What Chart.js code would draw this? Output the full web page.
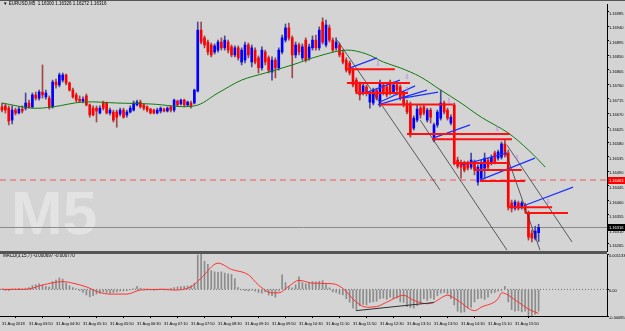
<!DOCTYPE html>
<html lang="en">
<head>
<meta charset="UTF-8">
<title>EURUSD,M5</title>
<script src="https://cdn.jsdelivr.net/npm/chart.js"></script>
<style>
  html, body { margin:0; padding:0; background:#d4d4d4; overflow:hidden; }
  #wrap { position:relative; width:625px; height:331px; }
  #wm { position:absolute; left:11px; top:182px; font:bold 62px/62px 'Liberation Sans', Arial, sans-serif; color:#e3e3e3; }
  canvas { position:absolute; left:0; }
  #priceChart { top:0; }
  #macdChart { top:253px; }
  .line { position:absolute; background:#555; }
</style>
</head>
<body>
<div id="wrap">
  <div id="wm">M5</div>
  <canvas id="priceChart" width="625" height="252"></canvas>
  <canvas id="macdChart" width="625" height="78"></canvas>
  <div class="line" style="left:0;top:0;width:625px;height:1px"></div>
  <div class="line" style="left:0;top:251px;width:607px;height:3px"></div>
</div>
<script>
// OHLC, 160 five-minute bars
const open = [
  1.16690,1.16693,1.16686,1.16649,1.16680,1.16671,1.16683,1.16686,1.16702,1.16690,
  1.16727,1.16717,1.16736,1.16721,1.16717,1.16690,1.16767,1.16758,1.16773,1.16789,
  1.16764,1.16742,1.16727,1.16714,1.16708,1.16724,1.16696,1.16686,1.16686,1.16671,
  1.16702,1.16702,1.16671,1.16674,1.16674,1.16668,1.16680,1.16665,1.16674,1.16680,
  1.16696,1.16705,1.16696,1.16690,1.16683,1.16680,1.16671,1.16677,1.16683,1.16677,
  1.16690,1.16680,1.16708,1.16699,1.16711,1.16696,1.16702,1.16702,1.16739,1.16928,
  1.16904,1.16891,1.16882,1.16860,1.16866,1.16891,1.16873,1.16891,1.16876,1.16851,
  1.16873,1.16829,1.16835,1.16882,1.16829,1.16866,1.16842,1.16811,1.16860,1.16842,
  1.16798,1.16835,1.16811,1.16860,1.16897,1.16935,1.16904,1.16851,1.16882,1.16842,
  1.16897,1.16842,1.16873,1.16897,1.16873,1.16953,1.16882,1.16935,1.16897,1.16873,
  1.16882,1.16857,1.16835,1.16826,1.16804,1.16773,1.16764,1.16733,1.16752,1.16705,
  1.16702,1.16742,1.16696,1.16758,1.16752,1.16767,1.16736,1.16758,1.16752,1.16733,
  1.16702,1.16699,1.16624,1.16649,1.16686,1.16690,1.16649,1.16680,1.16587,1.16634,
  1.16655,1.16702,1.16680,1.16640,1.16696,1.16525,1.16516,1.16516,1.16516,1.16503,
  1.16516,1.16457,1.16469,1.16500,1.16525,1.16516,1.16547,1.16531,1.16534,1.16575,
  1.16547,1.16392,1.16376,1.16392,1.16379,1.16385,1.16361,1.16298,1.16283,1.16300
];
const high = [
  1.16702,1.16699,1.16693,1.16693,1.16686,1.16690,1.16693,1.16733,1.16711,1.16733,
  1.16736,1.16742,1.16820,1.16742,1.16724,1.16773,1.16776,1.16795,1.16795,1.16792,
  1.16767,1.16748,1.16733,1.16724,1.16721,1.16730,1.16699,1.16693,1.16693,1.16693,
  1.16708,1.16705,1.16686,1.16680,1.16680,1.16686,1.16686,1.16680,1.16693,1.16708,
  1.16711,1.16711,1.16699,1.16693,1.16686,1.16683,1.16686,1.16690,1.16686,1.16690,
  1.16693,1.16714,1.16711,1.16714,1.16714,1.16708,1.16708,1.16745,1.16953,1.16953,
  1.16910,1.16897,1.16888,1.16885,1.16897,1.16904,1.16910,1.16897,1.16882,1.16879,
  1.16879,1.16873,1.16891,1.16888,1.16882,1.16873,1.16848,1.16876,1.16866,1.16848,
  1.16845,1.16842,1.16873,1.16913,1.16947,1.16950,1.16910,1.16891,1.16888,1.16885,
  1.16904,1.16885,1.16910,1.16913,1.16938,1.16966,1.16959,1.16944,1.16904,1.16904,
  1.16888,1.16866,1.16842,1.16832,1.16811,1.16780,1.16767,1.16761,1.16758,1.16739,
  1.16748,1.16748,1.16773,1.16764,1.16758,1.16773,1.16767,1.16764,1.16758,1.16739,
  1.16711,1.16705,1.16662,1.16696,1.16693,1.16696,1.16686,1.16686,1.16640,1.16680,
  1.16742,1.16708,1.16686,1.16665,1.16702,1.16534,1.16525,1.16522,1.16522,1.16547,
  1.16525,1.16510,1.16525,1.16547,1.16531,1.16541,1.16553,1.16556,1.16581,1.16587,
  1.16556,1.16401,1.16401,1.16398,1.16398,1.16392,1.16367,1.16308,1.16320,1.16326
];
const low = [
  1.16674,1.16671,1.16634,1.16637,1.16665,1.16668,1.16671,1.16680,1.16686,1.16686,
  1.16711,1.16711,1.16717,1.16714,1.16683,1.16686,1.16748,1.16752,1.16767,1.16758,
  1.16739,1.16717,1.16705,1.16705,1.16702,1.16693,1.16658,1.16662,1.16643,1.16668,
  1.16680,1.16668,1.16665,1.16643,1.16627,1.16662,1.16655,1.16658,1.16671,1.16677,
  1.16693,1.16686,1.16680,1.16674,1.16668,1.16668,1.16668,1.16671,1.16674,1.16674,
  1.16674,1.16674,1.16693,1.16696,1.16690,1.16693,1.16686,1.16699,1.16736,1.16885,
  1.16873,1.16851,1.16845,1.16854,1.16860,1.16866,1.16866,1.16857,1.16845,1.16845,
  1.16835,1.16820,1.16826,1.16842,1.16814,1.16823,1.16795,1.16804,1.16820,1.16795,
  1.16773,1.16780,1.16804,1.16854,1.16891,1.16897,1.16780,1.16842,1.16851,1.16835,
  1.16829,1.16835,1.16866,1.16866,1.16866,1.16885,1.16876,1.16891,1.16860,1.16866,
  1.16845,1.16823,1.16798,1.16789,1.16752,1.16730,1.16711,1.16727,1.16724,1.16686,
  1.16696,1.16711,1.16690,1.16727,1.16721,1.16727,1.16730,1.16727,1.16711,1.16690,
  1.16668,1.16596,1.16618,1.16643,1.16655,1.16665,1.16643,1.16640,1.16581,1.16627,
  1.16649,1.16668,1.16649,1.16634,1.16510,1.16500,1.16469,1.16488,1.16494,1.16497,
  1.16479,1.16447,1.16463,1.16469,1.16494,1.16510,1.16513,1.16525,1.16528,1.16534,
  1.16370,1.16364,1.16370,1.16370,1.16373,1.16361,1.16277,1.16271,1.16277,1.16272
];
const close = [
  1.16680,1.16680,1.16646,1.16680,1.16671,1.16683,1.16677,1.16702,1.16690,1.16727,
  1.16717,1.16736,1.16727,1.16733,1.16690,1.16767,1.16758,1.16789,1.16789,1.16764,
  1.16742,1.16721,1.16711,1.16708,1.16714,1.16696,1.16665,1.16665,1.16677,1.16686,
  1.16686,1.16671,1.16680,1.16649,1.16658,1.16680,1.16658,1.16674,1.16686,1.16702,
  1.16705,1.16690,1.16686,1.16680,1.16671,1.16671,1.16680,1.16686,1.16677,1.16686,
  1.16680,1.16711,1.16696,1.16711,1.16696,1.16705,1.16693,1.16742,1.16928,1.16891,
  1.16882,1.16860,1.16851,1.16879,1.16891,1.16873,1.16897,1.16866,1.16851,1.16873,
  1.16842,1.16866,1.16882,1.16851,1.16873,1.16829,1.16811,1.16866,1.16829,1.16804,
  1.16835,1.16811,1.16866,1.16904,1.16935,1.16904,1.16851,1.16882,1.16860,1.16876,
  1.16835,1.16876,1.16897,1.16873,1.16928,1.16891,1.16944,1.16897,1.16866,1.16891,
  1.16851,1.16829,1.16804,1.16795,1.16758,1.16736,1.16727,1.16755,1.16733,1.16733,
  1.16742,1.16717,1.16764,1.16733,1.16727,1.16733,1.16758,1.16742,1.16717,1.16696,
  1.16674,1.16603,1.16655,1.16683,1.16665,1.16671,1.16680,1.16658,1.16634,1.16674,
  1.16702,1.16674,1.16655,1.16658,1.16516,1.16506,1.16503,1.16494,1.16500,1.16525,
  1.16494,1.16503,1.16516,1.16531,1.16503,1.16534,1.16519,1.16550,1.16575,1.16541,
  1.16379,1.16376,1.16395,1.16376,1.16392,1.16370,1.16286,1.16283,1.16305,1.16316
];

// moving average, sampled by bar
const maIdx = [0, 9, 15, 24, 34, 44, 57, 64, 71, 78, 86, 94, 102, 108, 113, 118, 124, 130, 136, 142, 150, 156, 161];
const maVal = [1.16702, 1.16686, 1.16690, 1.16705, 1.16702, 1.16699, 1.16693, 1.16733, 1.16773, 1.16795, 1.16820, 1.16848,
               1.16866, 1.16854, 1.16829, 1.16811, 1.16783, 1.16742, 1.16702, 1.16658, 1.16609, 1.16556, 1.16503];

// drawn objects
const redFrom  = [102.2, 102.2, 105.2, 112, 120, 127.4, 133.6, 140.1, 141.6, 149.9, 155];
const redTo    = [116.4, 120.9, 120.3, 133.6, 150.5, 151.1, 149.6, 154, 155, 163, 167.7];
const redLevel = [1.16807, 1.16764, 1.16733, 1.16697, 1.16606, 1.16590, 1.16516, 1.16494, 1.16460, 1.16379, 1.16361];

const blueX1 = [103.1, 107.6, 112, 111.4, 118.8, 127.7, 136.3, 141.6, 155];
const blueY1 = [1.16811, 1.16733, 1.16705, 1.16696, 1.16717, 1.16593, 1.16510, 1.16463, 1.16385];
const blueX2 = [111.1, 117.9, 122.4, 125.9, 129.2, 138.7, 149.6, 157.9, 169.2];
const blueY2 = [1.16842, 1.16773, 1.16755, 1.16742, 1.16736, 1.16634, 1.16547, 1.16531, 1.16441];

const trendX1 = [99.3, 123.9, 149.6, 149];
const trendY1 = [1.16897, 1.16649, 1.16572, 1.16556];
const trendX2 = [129.8, 149.6, 168.9, 159.4];
const trendY2 = [1.16432, 1.16246, 1.16271, 1.16246];

const arrowIdx   = [111.4, 120, 120, 132.4, 146.7, 152.6, 161.8];
const arrowPrice = [1.16823, 1.16783, 1.16742, 1.16708, 1.16621, 1.16531, 1.16395];

const alertLevel = 1.16463;
const bidLevel = 1.16316;
const priceTicks = [1.16985, 1.16940, 1.16895, 1.16850, 1.16805, 1.16760, 1.16715, 1.16670, 1.16625,
                    1.16580, 1.16535, 1.16490, 1.16445, 1.16400, 1.16355, 1.16310, 1.16265];

// MACD
const hist = [
  0.00002,-0.00003,-0.00004,0.00001,0.00002,0.00003,0.00002,0.00004,
  0.00006,0.00012,0.00015,0.00018,0.00014,0.00010,0.00008,0.00025,
  0.00030,0.00037,0.00033,0.00020,0.00012,0.00006,0.00002,-0.00004,
  -0.00010,-0.00018,-0.00024,-0.00020,-0.00015,-0.00012,-0.00008,-0.00010,
  -0.00012,-0.00010,-0.00008,-0.00006,-0.00005,-0.00004,-0.00002,0.00002,
  0.00010,0.00004,0.00002,0.00001,-0.00002,-0.00003,-0.00002,0.00001,
  0.00002,0.00001,0.00003,0.00006,0.00008,0.00009,0.00010,0.00011,
  0.00012,0.00020,0.00110,0.00113,0.00090,0.00080,0.00060,0.00056,
  0.00055,0.00056,0.00052,0.00050,0.00048,0.00035,0.00006,-0.00002,
  -0.00004,-0.00005,-0.00003,-0.00006,-0.00010,-0.00012,-0.00008,-0.00018,
  -0.00020,-0.00025,-0.00005,0.00047,0.00022,0.00010,0.00005,0.00015,
  0.00040,0.00022,0.00018,0.00020,0.00025,0.00024,0.00026,0.00028,
  0.00015,0.00005,-0.00008,-0.00010,-0.00015,-0.00018,-0.00030,-0.00041,
  -0.00060,-0.00068,-0.00052,-0.00048,-0.00050,-0.00042,-0.00040,-0.00038,
  -0.00030,-0.00028,-0.00032,-0.00025,-0.00030,-0.00028,-0.00040,-0.00042,
  -0.00055,-0.00058,-0.00060,-0.00052,-0.00045,-0.00030,-0.00035,-0.00028,
  -0.00032,-0.00020,-0.00012,-0.00010,-0.00015,-0.00030,-0.00050,-0.00070,
  -0.00074,-0.00072,-0.00060,-0.00058,-0.00040,-0.00030,-0.00028,-0.00032,
  -0.00025,-0.00012,-0.00010,-0.00006,-0.00004,0.00010,-0.00040,-0.00065,
  -0.00070,-0.00068,-0.00072,-0.00070,-0.00085,-0.00090,-0.00080,-0.000697
];
const sigIdx = [0, 7, 12, 18, 21, 25, 29, 32, 37, 41, 47, 51, 56, 59, 64, 68, 73, 76, 80, 82, 85, 88, 92, 98, 101,
                105, 108, 111, 114, 119, 122, 126, 128, 132, 135, 140, 142, 147, 148, 153, 156, 159];
const sigVal = [0, 0, 0.00014, 0.00025, 0.0002, 0.00008, -0.0001, -0.00015, -0.00015, -0.00002, 0, -0.00002, 0.00008,
                0.00036, 0.00084, 0.00064, 0.00047, 0.00014, -0.00011, -0.00011, 0.0001, 0.00029, 0.0002, 0.00018, 0.00003,
                -0.00041, -0.00057, -0.00055, -0.00041, -0.00019, -0.00035, -0.00046, -0.00041, -0.00019, -0.00035,
                -0.00068, -0.00057, -0.0003, -0.00011, -0.00041, -0.00063, -0.00077];
const divIdx = [105, 128];
const divVal = [-0.00068, -0.00042];
const macdMin = -0.000852, macdMax = 0.001133;

const timeLabels = ['31 Aug 2018','31 Aug 03:50','31 Aug 04:30','31 Aug 05:10','31 Aug 05:50','31 Aug 06:30',
  '31 Aug 07:10','31 Aug 07:50','31 Aug 08:30','31 Aug 09:10','31 Aug 09:50','31 Aug 10:30','31 Aug 11:10',
  '31 Aug 11:50','31 Aug 12:30','31 Aug 13:10','31 Aug 13:50','31 Aug 14:30','31 Aug 15:10','31 Aug 15:50'];

const headerText = '\u25BC EURUSD,M5  1.16300 1.16326 1.16272 1.16316';
const macdText = 'MACD(3,15,7) -0.000697 -0.000770';

const xMin = -0.593, xMax = 179.26;
const FONT = '"Liberation Sans", Arial, sans-serif';

const isUp = open.map((o, i) => close[i] >= o);
const bodyColors = isUp.map(u => u ? '#0000ff' : '#ff0000');
const wickColors = isUp.map(u => u ? '#4a4a9a' : '#a04848');

function segments(x1, y1, x2, y2) {
  const pts = [];
  x1.forEach((v, k) => pts.push({x: v, y: y1[k]}, {x: x2[k], y: y2[k]}, {x: x2[k], y: null}));
  return pts;
}
const flat = (from, to, lvl) => segments(from, lvl, to, lvl);

const overlayPlugin = {
  id: 'overlay',
  afterDraw(chart) {
    const {ctx, scales: {x, y}, chartArea} = chart;
    ctx.save();
    ctx.textBaseline = 'middle';
    ctx.textAlign = 'left';
    ctx.fillStyle = '#000';
    ctx.font = '4.5px ' + FONT;
    ctx.fillText(headerText, 3, 4);

    ctx.fillStyle = '#c070f0';
    ctx.font = '7px "DejaVu Sans"';
    ctx.textAlign = 'center';
    arrowIdx.forEach((v, k) => ctx.fillText('\u21E9', x.getPixelForValue(v), y.getPixelForValue(arrowPrice[k])));

    ctx.textAlign = 'left';
    ctx.font = '4px ' + FONT;
    [[alertLevel, '#ff0000'], [bidLevel, '#000000']].forEach(([lvl, col]) => {
      const py = Math.round(y.getPixelForValue(lvl));
      ctx.fillStyle = col;
      ctx.fillRect(chartArea.right + 1, py - 3, 18, 7);
      ctx.fillStyle = '#fff';
      ctx.fillText(lvl.toFixed(5), chartArea.right + 2, py + 0.5);
    });
    ctx.restore();
  }
};

new Chart(document.getElementById('priceChart'), {
  type: 'bar',
  data: {
    datasets: [
      { type: 'line', data: [{x: xMin, y: alertLevel}, {x: xMax, y: alertLevel}], borderColor: '#e88080',
        borderWidth: 1.5, borderDash: [6, 4], pointRadius: 0, order: 20 },
      { type: 'line', data: [{x: xMin, y: bidLevel}, {x: xMax, y: bidLevel}], borderColor: '#8a8a8a',
        borderWidth: 1, pointRadius: 0, order: 19 },
      { data: open.map((o, i) => ({x: i, y: [low[i], high[i]]})), backgroundColor: wickColors,
        barThickness: 1, grouped: false, order: 12 },
      { data: open.map((o, i) => ({x: i, y: [o, close[i]]})), backgroundColor: bodyColors,
        barThickness: 2, grouped: false, minBarLength: 1, order: 11 },
      { type: 'line', data: maIdx.map((v, k) => ({x: v, y: maVal[k]})), borderColor: '#117a11',
        borderWidth: 1, pointRadius: 0, tension: 0.35, order: 8 },
      { type: 'line', data: segments(trendX1, trendY1, trendX2, trendY2), borderColor: '#3a3a3a',
        borderWidth: 0.8, pointRadius: 0, order: 4 },
      { type: 'line', data: segments(blueX1, blueY1, blueX2, blueY2), borderColor: '#1a32ff',
        borderWidth: 1.2, pointRadius: 0, order: 3 },
      { type: 'line', data: flat(redFrom, redTo, redLevel), borderColor: '#ff1010',
        borderWidth: 2, pointRadius: 0, order: 2 }
    ]
  },
  options: {
    responsive: false,
    animation: false,
    layout: { padding: { top: 4, left: 0, right: 0, bottom: 0 } },
    plugins: { legend: { display: false }, tooltip: { enabled: false } },
    scales: {
      x: { type: 'linear', min: xMin, max: xMax, display: false, offset: false },
      y: {
        position: 'right', min: 1.16240, max: 1.17009,
        afterFit(s) { s.width = 18; s.paddingTop = 0; s.paddingBottom = 0; },
        afterBuildTicks(s) { s.ticks = priceTicks.map(v => ({value: v})); },
        ticks: { autoSkip: false, font: { size: 4, family: FONT }, color: '#000', padding: 0, labelOffset: 2,
                 callback: v => v.toFixed(5) },
        grid: { drawOnChartArea: false, drawTicks: true, tickLength: 2, color: '#000' },
        border: { display: true, color: '#000' }
      }
    }
  },
  plugins: [overlayPlugin]
});

const macdLabelPlugin = {
  id: 'macdLabel',
  afterDraw(chart) {
    const {ctx} = chart;
    ctx.save();
    ctx.font = '4.5px ' + FONT;
    ctx.fillStyle = '#000';
    ctx.textBaseline = 'middle';
    ctx.fillText(macdText, 3, 3);
    ctx.restore();
  }
};

new Chart(document.getElementById('macdChart'), {
  type: 'bar',
  data: {
    datasets: [
      { type: 'line', data: [{x: xMin, y: 0}, {x: xMax, y: 0}], borderColor: '#707070',
        borderWidth: 1, borderDash: [1, 2], pointRadius: 0, order: 10 },
      { data: hist.map((v, i) => ({x: i, y: v})), backgroundColor: '#8c8c8c', barThickness: 1, order: 5 },
      { type: 'line', data: sigIdx.map((v, k) => ({x: v, y: sigVal[k]})), borderColor: '#ff3030',
        borderWidth: 1, pointRadius: 0, cubicInterpolationMode: 'monotone', order: 2 },
      { type: 'line', data: divIdx.map((v, k) => ({x: v, y: divVal[k]})), borderColor: '#303030',
        borderWidth: 1, pointRadius: 0, order: 1 }
    ]
  },
  options: {
    responsive: false,
    animation: false,
    layout: { padding: { top: 1, left: 0, right: 0, bottom: 0 } },
    plugins: { legend: { display: false }, tooltip: { enabled: false } },
    scales: {
      x: {
        type: 'linear', min: xMin, max: xMax, offset: false,
        afterFit(s) { s.height = 15; s.paddingLeft = 0; s.paddingRight = 0; },
        afterBuildTicks(s) { s.ticks = timeLabels.map((t, k) => ({value: k * 8})); },
        ticks: { autoSkip: false, maxRotation: 0, minRotation: 0, align: 'start', padding: 3,
                 font: { size: 4, family: FONT }, color: '#000', callback: (v, k) => timeLabels[k] },
        grid: { drawOnChartArea: false, drawTicks: true, tickLength: 2, color: '#000' },
        border: { display: true, color: '#000' }
      },
      y: {
        position: 'right', min: macdMin, max: macdMax,
        afterFit(s) { s.width = 18; s.paddingTop = 0; s.paddingBottom = 0; },
        afterBuildTicks(s) { s.ticks = [macdMin, 0, macdMax].map(v => ({value: v})); },
        ticks: { autoSkip: false, font: { size: 4, family: FONT }, color: '#000', padding: 0, labelOffset: 2,
                 callback: v => v === 0 ? '0.00' : v.toFixed(6) },
        grid: { drawOnChartArea: false, drawTicks: true, tickLength: 2, color: '#000' },
        border: { display: true, color: '#000' }
      }
    }
  },
  plugins: [macdLabelPlugin]
});
</script>
</body>
</html>
